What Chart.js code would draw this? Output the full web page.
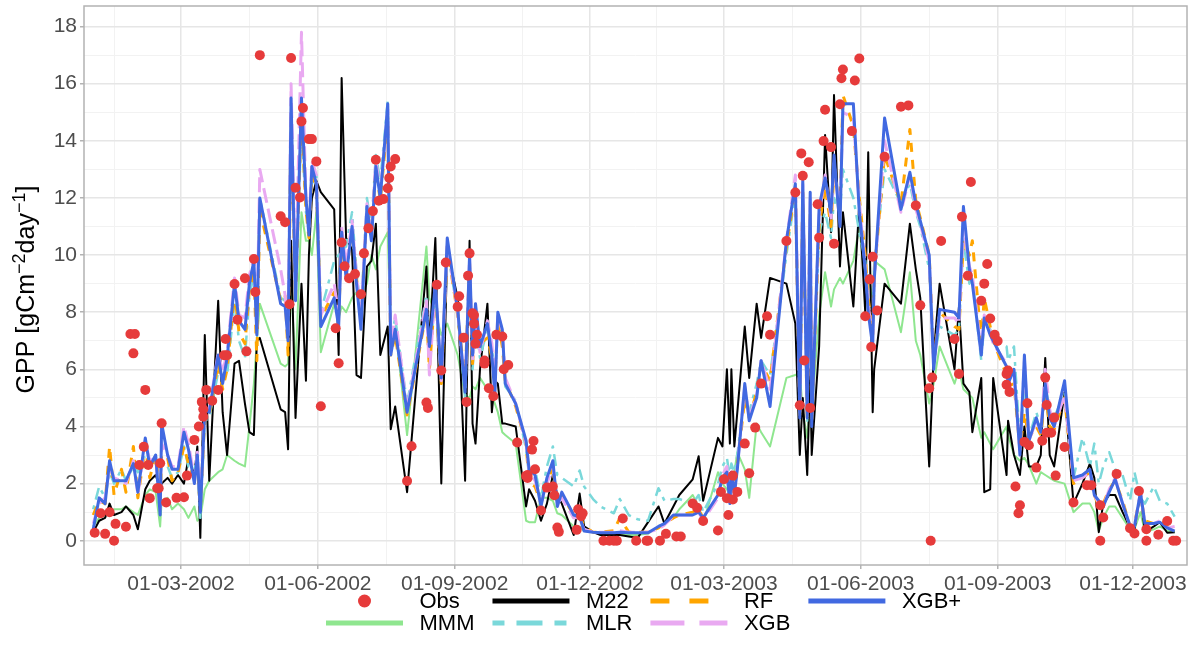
<!DOCTYPE html>
<html><head><meta charset="utf-8">
<script src="https://cdn.jsdelivr.net/npm/chart.js@4.4.1/dist/chart.umd.min.js"></script>
<style>html,body{margin:0;padding:0;background:#fff}#wrap{width:1200px;height:661px}</style>
</head><body><div id="wrap"><canvas id="c" width="1200" height="661"></canvas></div>
<script>
// ---- DATA (days counted from 01-01-2002) ----
const tickDays   = [59, 151, 243, 334, 424, 516, 608, 699];
const tickLabels = ['01-03-2002','01-06-2002','01-09-2002','01-12-2002','01-03-2003','01-06-2003','01-09-2003','01-12-2003'];
const minorDays  = [14, 105, 197, 288.5, 379, 470, 562, 653.5];
const yTicks     = [0,1,2,3,4,5,6,7,8,9,10,11,12,13,14,15,16,17,18];
const yTitleParts = [['GPP [gCm', false], ['\u22122', true], ['day', false], ['\u22121', true], [']', false]];

const lineDays = [
 0,4,8,11,14,19,22,27,30,35,38,42,45,46,50,53,57,61,64,68,70,72,75,
 78,84,87,90,95,98,102,105,108,110,112,126,129,131,133,136,140,143,145,147,150,153,162,165,167,170,174,177,180,184,187,190,193,198,
 200,203,211,224,226,230,234,238,245,250,253,255,257,260,265,268,270,272,275,277,284,291,293,297,301,305,309,312,315,323,327,330,336,341,350,354,360,366,373,380,384,390,394,
 403,407,410,420,423,426,428,429,431,433,438,441,446,449,455,466,472,475,477,480,482,483,488,492,496,498,502,504,511,515,519,521,524,525,532,543,549,553,556,562,
 565,569,579,582,585,589,591,597,599,603,605,614,615,619,623,626,629,634,637,640,643,646,653,659,665,670,673,676,679,683,687,692,697,700,704,707,713,717,722,727];

const xgbPlus = [
 0.4,1.5,1.3,2.8,2.1,2.1,2.1,2.7,1.7,3.6,2.6,3.0,0.9,4.1,3.0,2.5,2.5,3.8,3.2,2.0,3.0,1.0,4.6,
 4.5,6.5,5.5,6.4,9.0,7.7,7.4,9.0,9.8,7.2,12.0,8.3,8.2,7.0,15.5,8.4,15.5,12.0,10.7,13.1,12.5,7.5,8.5,7.5,10.8,9.2,11.0,9.0,7.4,11.7,10.5,13.1,12.0,15.3,
 6.5,7.4,4.5,8.1,6.8,9.0,5.7,10.6,8.1,5.2,10.0,6.5,8.3,6.8,7.6,6.5,5.1,8.0,7.4,5.5,4.8,3.5,2.5,2.3,1.2,2.2,2.8,1.2,1.7,0.9,0.84,0.34,0.3,0.28,0.28,0.3,0.28,0.28,0.28,0.5,0.6,0.9,0.9,
 0.9,1.0,0.8,1.6,2.2,2.4,1.3,2.4,1.6,2.5,5.5,4.2,5.0,6.3,4.7,10.5,12.5,4.3,12.6,4.3,12.2,4.0,11.7,12.7,11.5,13.5,11.0,15.3,15.3,11.5,9.5,8.0,6.8,9.1,14.8,11.6,12.9,11.8,11.2,10.0,
 6.0,8.1,8.0,7.8,11.7,9.5,9.0,6.5,7.8,7.2,7.0,6.1,5.5,6.0,3.0,6.5,3.5,4.3,3.8,5.5,4.3,4.0,5.6,2.2,2.3,2.5,1.6,1.4,1.2,1.7,2.15,1.3,0.52,0.5,1.7,0.6,0.6,0.65,0.45,0.34];

const m22 = [
 0.3,0.7,0.8,1.3,0.9,1.0,1.2,0.9,0.4,1.8,2.1,2.3,1.8,2.0,2.2,2.0,2.3,2.0,2.9,2.3,3.3,0.1,7.2,
 2.1,8.4,4.5,3.0,6.2,6.3,4.8,3.8,3.7,7.0,7.1,4.6,4.5,3.2,10.5,4.3,9.0,5.6,10.0,12.0,12.6,12.2,11.6,6.5,16.2,10.6,10.2,5.8,5.7,9.6,9.8,11.1,6.5,7.5,
 3.9,4.7,1.7,9.6,6.8,10.6,2.0,10.2,8.5,2.1,10.5,4.1,3.4,6.0,8.3,4.5,5.6,5.5,4.1,4.1,4.0,1.2,1.8,1.4,0.7,1.3,2.3,1.6,1.3,0.2,1.65,0.5,0.3,0.2,0.2,0.2,0.15,0.1,0.65,1.2,0.6,1.2,1.6,
 2.15,2.96,1.4,3.6,3.3,6.0,3.4,6.0,3.3,4.5,7.5,5.7,8.3,7.1,9.2,9.0,7.6,3.0,5.0,2.3,6.0,3.0,6.8,14.2,10.8,15.6,9.6,11.5,8.2,11.8,8.0,13.6,4.5,6.0,9.0,8.3,11.1,9.5,8.5,2.6,
 6.5,9.0,6.0,8.2,5.5,5.2,3.8,5.7,1.7,1.8,5.7,2.3,4.2,3.0,2.3,4.0,2.6,2.6,3.0,6.4,3.0,2.6,5.2,1.3,2.0,2.7,2.2,0.3,1.3,1.6,1.6,1.0,0.46,0.4,1.65,0.3,0.5,0.65,0.28,0.3];

const mmm = [
 0.5,0.8,0.9,1.0,1.1,1.1,1.2,1.0,0.9,1.6,1.8,1.7,0.5,1.4,1.5,1.1,1.3,1.1,0.8,1.2,0.7,0.8,1.8,
 2.1,2.4,2.5,3.0,2.8,2.7,2.6,4.0,5.5,7.0,8.3,6.2,6.1,6.2,9.0,6.0,11.5,10.5,10.5,10.0,11.5,6.6,8.3,7.8,8.2,8.0,8.5,8.7,8.6,9.0,10.0,9.5,10.3,10.8,
 7.0,7.5,3.7,10.3,8.5,8.0,7.2,7.6,6.5,5.1,5.0,5.4,5.3,5.7,5.3,5.1,4.8,4.5,3.8,3.7,3.4,0.7,0.65,0.65,1.5,1.5,1.4,0.96,0.9,0.5,0.5,0.34,0.3,0.3,0.25,0.25,0.2,0.2,0.25,0.5,0.6,0.8,1.1,
 1.6,1.2,0.6,2.4,2.0,1.8,1.6,2.0,2.4,3.1,2.5,1.5,4.1,3.8,3.3,5.7,5.8,5.9,4.5,3.6,5.0,4.5,7.9,9.4,8.2,8.8,9.2,9.0,9.8,11.0,9.0,9.3,8.5,9.8,9.5,7.3,9.4,7.0,6.5,4.8,
 5.5,6.8,5.5,6.0,5.3,5.1,5.0,3.6,3.8,3.4,3.2,4.0,3.7,3.0,2.8,2.9,2.65,2.0,2.4,2.3,2.2,2.1,2.0,1.0,1.3,1.3,1.0,0.34,0.8,1.2,1.2,0.8,0.4,0.4,1.0,0.3,0.4,0.5,0.35,0.3];

const mlr = [
 1.1,1.9,1.5,2.4,2.0,2.5,2.1,2.6,2.4,3.0,2.6,3.0,1.8,2.6,2.6,2.2,2.4,3.3,2.6,2.5,2.9,0.8,4.2,
 4.3,5.9,5.8,5.8,8.4,7.0,6.4,8.6,9.3,7.3,12.0,8.5,8.4,7.2,15.0,8.8,14.5,11.5,11.2,12.5,12.8,8.0,9.8,10.0,10.2,10.3,11.5,9.4,8.0,12.0,11.0,13.5,12.6,15.4,
 7.0,7.8,4.8,8.6,6.5,8.5,5.5,10.2,8.0,5.0,9.8,6.0,7.5,6.4,7.4,6.8,5.5,7.6,7.0,5.4,4.9,3.2,2.3,2.5,1.5,2.6,3.3,2.3,2.2,1.9,2.46,1.9,1.46,1.2,0.96,1.46,0.9,0.75,0.7,1.84,1.4,1.46,1.46,
 1.3,1.6,1.0,2.0,2.6,2.9,2.2,2.7,2.4,3.0,5.2,4.5,5.5,6.3,5.8,10.0,12.2,4.5,12.0,4.2,11.0,4.3,10.8,11.5,10.6,12.0,11.5,13.0,12.0,10.8,9.8,8.5,7.0,9.6,13.0,11.8,12.5,11.5,11.0,9.5,
 6.2,7.5,7.2,7.4,10.5,9.0,9.2,6.3,7.6,7.4,7.0,6.8,6.3,6.8,3.4,5.5,3.6,4.5,4.0,5.5,4.5,4.3,5.2,2.2,3.6,2.6,3.4,2.0,2.6,3.1,2.5,2.3,1.4,2.4,1.5,1.3,1.9,1.4,1.3,0.84];

const rf = [
 0.9,1.4,1.3,3.3,1.6,2.5,1.7,3.3,1.5,3.3,2.2,3.0,1.5,3.0,2.9,2.1,2.4,3.3,2.7,2.2,2.7,1.1,4.4,
 4.4,6.2,5.3,6.0,8.7,7.3,6.9,8.8,9.5,6.3,11.6,8.4,8.6,6.5,14.8,8.5,15.0,11.6,10.6,12.8,12.4,7.8,8.7,7.8,10.5,9.4,10.8,9.2,7.8,11.5,10.8,13.0,11.9,14.8,
 6.5,7.2,4.4,8.0,6.0,8.8,5.5,10.3,7.9,5.6,9.7,6.2,7.7,6.9,7.1,6.4,5.5,7.7,6.8,5.6,4.7,3.4,2.0,1.9,1.3,2.0,2.6,1.3,1.6,0.9,0.9,0.5,0.3,0.3,0.35,0.8,0.3,0.3,0.3,0.45,0.6,0.8,0.9,
 1.0,1.1,0.8,1.5,2.1,2.5,1.5,2.3,1.8,2.6,5.0,4.3,5.2,6.2,5.6,10.3,12.3,4.4,12.2,4.3,11.5,4.2,11.0,12.4,11.0,13.0,11.5,15.6,14.5,12.0,10.0,8.5,7.2,9.3,13.5,11.8,14.4,11.9,11.3,10.0,
 6.3,8.0,7.5,7.4,10.5,10.0,10.5,7.0,8.5,7.5,7.0,5.8,5.4,5.5,3.2,4.5,3.6,4.0,3.7,5.2,4.0,3.9,5.0,2.0,2.2,2.4,1.6,1.2,1.3,1.8,2.1,1.4,0.5,0.6,1.6,0.7,0.6,0.7,0.5,0.4];

const xgb = [
 0.6,1.3,1.5,2.6,2.2,2.1,2.0,2.8,1.6,3.5,2.8,2.9,1.1,3.4,3.0,2.6,2.6,4.0,3.4,2.2,3.1,1.3,4.8,
 4.6,6.6,5.9,6.6,9.2,7.9,7.8,9.3,9.9,7.5,13.0,9.5,8.6,7.2,16.0,9.0,17.8,12.0,11.0,13.3,12.8,7.9,9.0,7.8,11.0,9.6,11.2,9.3,7.8,11.8,10.8,13.3,12.2,15.1,
 6.8,7.9,4.6,8.4,5.8,8.9,5.6,10.4,8.0,5.3,9.9,6.3,7.8,6.6,7.7,6.9,5.4,8.0,7.3,5.7,4.8,3.4,2.4,2.1,1.3,2.0,2.6,1.3,1.5,0.8,0.8,0.4,0.3,0.3,0.3,0.35,0.3,0.3,0.3,0.4,0.55,0.85,0.9,
 0.9,1.0,0.7,1.5,2.3,2.6,1.4,2.4,1.7,2.6,5.4,4.3,5.1,6.3,5.3,10.5,12.8,4.5,12.5,4.5,12.0,4.4,11.4,12.8,11.3,13.2,11.4,15.0,14.8,11.8,9.6,8.3,7.0,9.2,14.0,11.5,12.8,11.6,11.1,9.8,
 6.2,7.8,7.8,7.6,11.0,9.6,9.3,6.6,7.9,7.3,6.9,6.2,5.6,5.8,3.1,6.3,3.5,4.2,3.8,6.0,4.6,4.0,5.1,2.1,2.2,2.4,1.6,1.3,1.2,1.8,2.2,1.3,0.5,0.5,1.7,0.6,0.6,0.7,0.45,0.5];

const obsDays = [
 1,5,8,11,14,15,22,25,28,27,
 35,34,31,37,38,43,44,46,45,49,
 56,61,63,68,71,73,74,74,76,80,
 84,89,88,90,95,97,102,103,108,109,
 112,126,129,133,132,136,139,141,140,145,
 147,150,153,163,165,167,169,172,176,180,
 182,185,188,190,192,195,198,199,200,203,
 224,225,214,211,231,234,237,246,245,249,
 253,252,255,256,256,258,257,251,263,263,
 266,269,271,275,276,279,285,291,296,295,
 297,292,292,301,305,310,309,312,313,325,
 326,328,329,343,347,350,352,356,365,372,
 373,381,385,392,395,403,406,410,420,422,
 424,426,430,427,430,433,438,441,445,449,
 453,455,466,472,476,477,481,478,475,482,
 487,488,492,491,496,498,502,503,504,512,
 515,510,519,522,524,527,523,532,543,548,
 553,556,562,563,564,570,579,582,584,588,
 590,597,599,601,603,606,608,614,615,614,
 616,620,623,622,628,626,629,634,638,640,
 641,641,644,646,647,653,659,668,671,677,
 679,677,688,697,700,703,708,708,716,722,
 726,728];
const obsVals = [
 0.28,0.96,0.24,1.0,0,0.59,0.49,7.24,7.24,6.56,
 5.28,3.29,2.65,2.65,1.49,1.84,1.84,4.11,2.71,1.34,
 1.5,1.52,2.28,3.53,4.0,4.86,4.6,4.34,5.28,4.9,
 5.28,7.06,6.49,6.49,8.99,7.74,9.19,6.63,9.86,8.71,
 17.0,11.36,11.15,16.9,8.28,12.36,12.02,15.15,14.68,14.06,
 14.06,13.28,4.71,7.44,6.21,10.44,9.61,9.19,9.34,8.63,
 10.06,10.94,11.54,13.34,11.9,11.96,12.34,12.7,13.1,13.36,
 4.84,4.65,3.31,2.09,8.96,5.96,9.74,8.56,8.19,7.11,
 10.06,9.28,7.96,7.9,7.6,7.21,6.9,4.86,6.31,6.2,
 5.34,5.06,7.21,7.15,6.0,6.15,3.44,2.27,3.49,3.19,
 2.5,2.3,2.2,1.06,1.86,1.59,1.9,0.46,0.31,0.38,
 1.1,0.86,0.96,0,0,0,0,0.78,0,0,
 0,0,0.24,0.15,0.15,1.3,1.15,0.69,0.36,1.71,
 2.15,1.49,2.28,0.9,1.44,1.71,3.4,2.36,3.96,5.5,
 7.86,7.21,10.49,12.19,13.56,12.78,13.25,6.31,4.74,4.65,
 11.78,10.61,15.09,13.99,13.78,10.4,15.28,16.19,16.5,16.11,
 16.88,14.34,7.86,9.15,9.94,8.06,6.78,13.44,15.19,15.24,
 11.74,8.24,5.34,0,5.71,10.49,7.06,5.84,11.34,9.28,
 12.56,8.4,9.0,9.69,7.78,7.21,6.99,5.84,5.96,5.46,
 5.21,1.9,1.24,0.96,4.81,3.46,3.34,2.56,3.5,5.71,
 4.75,3.78,3.78,4.31,2.28,3.28,1.34,1.94,1.94,1.24,
 0.81,0,2.34,0.44,0.25,1.74,0.4,0,0.21,0.69,
 0,0];

// ---- STYLE ----
const FONT = "'Liberation Sans', Arial, Helvetica, sans-serif";
const C = {obs:'#E63B3B', m22:'#000000', mmm:'#8FE68F', mlr:'#7AD8DA', rf:'#FFA500', xgb:'#E9A9F1', xgbp:'#4169E1'};

function pts(days, vals){ return days.map((d,i)=>({x:d, y:vals[i]})); }
function lineDS(label, vals, color, width, dash, order){
  return {label, data: pts(lineDays, vals), borderColor: color, backgroundColor: color,
    borderWidth: width, borderDash: dash, pointRadius: 0, tension: 0, fill: false, order,
    borderJoinStyle:'round', borderCapStyle:'butt'};
}

const majorSet = new Set(tickDays);
const labelMap = {}; tickDays.forEach((d,i)=>labelMap[d]=tickLabels[i]);

const legendItems = [
  {label:'Obs', point:true, color:C.obs},
  {label:'MMM', color:C.mmm, w:5, dash:[]},
  {label:'M22', color:C.m22, w:5, dash:[]},
  {label:'MLR', color:C.mlr, w:5, dash:[12,12,26,12]},
  {label:'RF',  color:C.rf,  w:5, dash:[19,20]},
  {label:'XGB', color:C.xgb, w:5, dash:[34,15]},
  {label:'XGB+',color:C.xgbp,w:5, dash:[]}
];

const ggPlugin = {
  id:'gg',
  afterDraw(chart){
    const ctx = chart.ctx, a = chart.chartArea;
    ctx.save();
    // panel border
    ctx.strokeStyle = '#B3B3B3'; ctx.lineWidth = 1.5;
    ctx.strokeRect(a.left, a.top, a.right - a.left, a.bottom - a.top);

    // y-axis title with superscripts
    const baseF = '25px ' + FONT, supF = '18px ' + FONT;
    let total = 0;
    yTitleParts.forEach(([t, sup]) => { ctx.font = sup ? supF : baseF; total += ctx.measureText(t).width; });
    ctx.save();
    ctx.translate(34, (a.top + a.bottom) / 2 + 4);
    ctx.rotate(-Math.PI / 2);
    ctx.fillStyle = '#000'; ctx.textAlign = 'left'; ctx.textBaseline = 'alphabetic';
    let tx = -total / 2;
    yTitleParts.forEach(([t, sup]) => {
      ctx.font = sup ? supF : baseF;
      ctx.fillText(t, tx, sup ? -9 : 0);
      tx += ctx.measureText(t).width;
    });
    ctx.restore();

    // legend (2 rows, column-major)
    ctx.font = '22px ' + FONT;
    const keyW = 77, gap = 16.5, sp = 18, rowsY = [601, 623];
    const cols = [[0,1],[2,3],[4,5],[6]];
    let x = 326;
    cols.forEach(col => {
      const tw = Math.max(...col.map(i => ctx.measureText(legendItems[i].label).width));
      col.forEach((i, r) => {
        const it = legendItems[i], y = rowsY[r];
        if (it.point) {
          ctx.fillStyle = it.color; ctx.beginPath(); ctx.arc(x + keyW/2, y, 6.5, 0, Math.PI*2); ctx.fill();
        } else {
          ctx.strokeStyle = it.color; ctx.lineWidth = it.w; ctx.setLineDash(it.dash); ctx.lineCap='butt';
          ctx.beginPath(); ctx.moveTo(x, y); ctx.lineTo(x + keyW, y); ctx.stroke(); ctx.setLineDash([]);
        }
        ctx.fillStyle = '#000'; ctx.textAlign = 'left'; ctx.textBaseline = 'middle';
        ctx.fillText(it.label, x + keyW + gap, y + 1);
      });
      x += keyW + gap + tw + sp;
    });
    ctx.restore();
  }
};

new Chart(document.getElementById('c'), {
  type: 'line',
  data: { datasets: [
    {label:'Obs', data: pts(obsDays, obsVals), showLine:false, pointRadius:5, pointHoverRadius:5,
     pointBackgroundColor:C.obs, pointBorderWidth:0, backgroundColor:C.obs, borderColor:C.obs, order:0},
    lineDS('XGB+', xgbPlus, C.xgbp, 3, [], 1),
    lineDS('XGB', xgb, C.xgb, 3, [15,6], 2),
    lineDS('RF', rf, C.rf, 3, [9,8], 3),
    lineDS('MLR', mlr, C.mlr, 2.5, [4,6,12,6], 4),
    lineDS('M22', m22, C.m22, 2, [], 5),
    lineDS('MMM', mmm, C.mmm, 2, [], 6)
  ]},
  options: {
    responsive:false, animation:false, devicePixelRatio:1,
    layout:{padding:{left:0, right:13, top:6, bottom:66}},
    plugins:{legend:{display:false}, tooltip:{enabled:false}},
    scales:{
      x:{ type:'linear', min:-6.2, max:735.3,
        afterBuildTicks(s){ s.ticks = [...minorDays, ...tickDays].sort((p,q)=>p-q).map(v=>({value:v})); },
        afterFit(s){ s.height = 30; s.paddingLeft = 0; s.paddingRight = 0; },
        ticks:{ autoSkip:false, maxRotation:0, minRotation:0, padding:3, color:'#4D4D4D',
          font:{family:FONT, size:21}, callback:(v)=> labelMap[v] || '' },
        grid:{ color:(c)=> (c.tick && majorSet.has(c.tick.value)) ? '#E6E6E6' : '#F2F2F2',
          lineWidth:(c)=> (c.tick && majorSet.has(c.tick.value)) ? 1.5 : 1,
          tickLength:4, tickWidth:1.5,
          tickColor:(c)=> (c.tick && majorSet.has(c.tick.value)) ? '#B3B3B3' : 'rgba(0,0,0,0)' },
        border:{display:false}
      },
      y:{ min:-0.85, max:18.72,
        afterBuildTicks(s){ s.ticks = yTicks.map(v=>({value:v})); },
        afterFit(s){ s.width = 84; s.paddingTop = 0; s.paddingBottom = 0; },
        ticks:{ autoSkip:false, padding:3, color:'#4D4D4D', font:{family:FONT, size:21},
          callback:(v)=> (v % 2 === 0) ? String(v) : '' },
        grid:{ color:(c)=> (c.tick && c.tick.value % 2 === 0) ? '#E6E6E6' : '#F2F2F2',
          lineWidth:(c)=> (c.tick && c.tick.value % 2 === 0) ? 1.5 : 1,
          tickLength:4, tickWidth:1.5,
          tickColor:(c)=> (c.tick && c.tick.value % 2 === 0) ? '#B3B3B3' : 'rgba(0,0,0,0)' },
        border:{display:false}
      }
    }
  },
  plugins:[ggPlugin]
});
</script></body></html>
